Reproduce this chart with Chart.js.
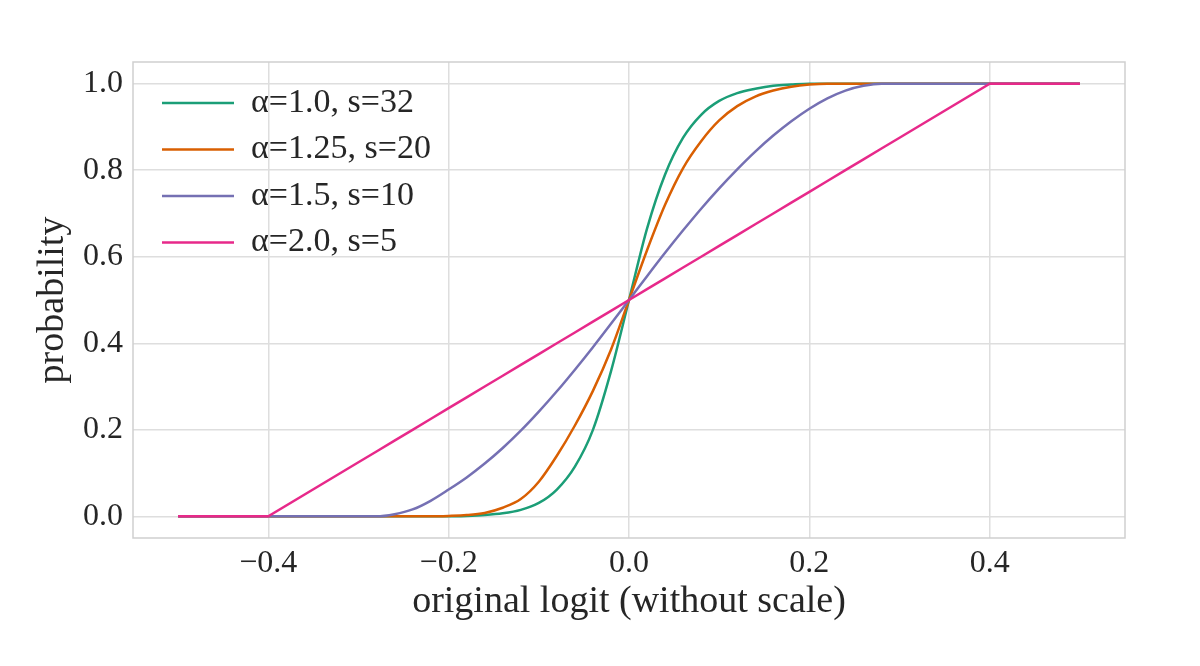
<!DOCTYPE html>
<html lang="en">
<head>
    <meta charset="UTF-8">
    <title>probability vs original logit</title>
    <script src="https://cdn.jsdelivr.net/npm/chart.js"></script>
    <style>
        html, body { margin: 0; padding: 0; background: #fff; }
        #wrap { width: 1200px; height: 666px; }
    </style>
</head>
<body>
    <div id="wrap">
        <canvas id="logitChart" width="1200" height="666"></canvas>
    </div>

    <script>
        // Valores
        const logitValues = [-0.5, -0.4, -0.3, -0.28, -0.26, -0.24, -0.22, -0.2, -0.18, -0.16, -0.14, -0.12, -0.1, -0.08, -0.06, -0.04, -0.02,
            0, 0.02, 0.04, 0.06, 0.08, 0.1, 0.12, 0.14, 0.16, 0.18, 0.2, 0.22, 0.24, 0.26, 0.28, 0.3, 0.4, 0.5];

        const probA10 = [0, 0, 0, 0, 0, 0, 0, 0, 0.001, 0.003, 0.007, 0.015, 0.031, 0.062, 0.115, 0.2, 0.335,
            0.5, 0.665, 0.79, 0.875, 0.928, 0.96, 0.978, 0.988, 0.995, 0.998, 1, 1, 1, 1, 1, 1, 1, 1];

        const probA125 = [0, 0, 0, 0, 0, 0, 0, 0.001, 0.003, 0.008, 0.02, 0.04, 0.08, 0.14, 0.21, 0.29, 0.385,
            0.5, 0.615, 0.72, 0.805, 0.867, 0.915, 0.948, 0.97, 0.984, 0.993, 0.998, 1, 1, 1, 1, 1, 1, 1];

        const probA15 = [0, 0, 0, 0, 0.005, 0.016, 0.036, 0.062, 0.09, 0.122, 0.158, 0.198, 0.242, 0.289, 0.339, 0.391, 0.445,
            0.5, 0.555, 0.609, 0.661, 0.711, 0.758, 0.802, 0.843, 0.88, 0.913, 0.942, 0.966, 0.984, 0.995, 1, 1, 1, 1];

        const probA20 = [0, 0, 0.125, 0.15, 0.175, 0.2, 0.225, 0.25, 0.275, 0.3, 0.325, 0.35, 0.375, 0.4, 0.425, 0.45, 0.475,
            0.5, 0.525, 0.55, 0.575, 0.6, 0.625, 0.65, 0.675, 0.7, 0.725, 0.75, 0.775, 0.8, 0.825, 0.85, 0.875, 1, 1];

        const seriesLabels = ['α=1.0, s=32', 'α=1.25, s=20', 'α=1.5, s=10', 'α=2.0, s=5'];
        const seriesColors = ['#1b9e77', '#d95f02', '#7570b3', '#e7298a'];

        const xTickValues = [-0.4, -0.2, 0, 0.2, 0.4];
        const xTickLabels = ['−0.4', '−0.2', '0.0', '0.2', '0.4'];
        const yTickValues = [0, 0.2, 0.4, 0.6, 0.8, 1.0];
        const yTickLabels = ['0.0', '0.2', '0.4', '0.6', '0.8', '1.0'];

        const serif = "'Liberation Serif', 'Times New Roman', serif";
        const textColor = '#262626';

        function toPoints(ys) {
            return logitValues.map((x, i) => ({ x: x, y: ys[i] }));
        }

        const allSeries = [probA10, probA125, probA15, probA20];
        const datasets = allSeries.map((ys, i) => ({
            label: seriesLabels[i],
            data: toPoints(ys),
            borderColor: seriesColors[i],
            backgroundColor: seriesColors[i],
            borderWidth: 2.5,
            pointRadius: 0,
            pointStyle: 'line',
            tension: 0,
            cubicInterpolationMode: i === 3 ? 'default' : 'monotone',
            // el ultimo queda encima, como en matplotlib
            order: allSeries.length - i
        }));

        // Marco gris alrededor del area del grafico
        const framePlugin = {
            id: 'frame',
            beforeDatasetsDraw(chart) {
                const { ctx, chartArea: a } = chart;
                ctx.save();
                ctx.strokeStyle = '#cfcfcf';
                ctx.lineWidth = 1.5;
                ctx.strokeRect(a.left, a.top, a.right - a.left, a.bottom - a.top);
                ctx.restore();
            }
        };

        // Leyenda dentro del area, arriba a la izquierda
        const legendOffset = {
            id: 'legendOffset',
            afterLayout(chart) {
                const lg = chart.legend;
                if (lg) {
                    lg.left = chart.chartArea.left + 16.5;
                    lg.top = chart.chartArea.top + 11.5;
                    lg.bottom = chart.chartArea.bottom;
                }
            }
        };

        new Chart(document.getElementById('logitChart'), {
            type: 'line',
            data: { datasets },
            plugins: [framePlugin, legendOffset],
            options: {
                responsive: false,
                animation: false,
                devicePixelRatio: 1,
                layout: { padding: { left: 0, top: 62, right: 75, bottom: 0 } },
                plugins: {
                    tooltip: { enabled: false },
                    legend: {
                        position: 'chartArea',
                        align: 'start',
                        labels: {
                            usePointStyle: true,
                            pointStyleWidth: 72,
                            padding: 12.5,
                            color: textColor,
                            font: { family: serif, size: 34 },
                            sort: (a, b) => a.datasetIndex - b.datasetIndex
                        }
                    }
                },
                scales: {
                    x: {
                        type: 'linear',
                        min: -0.55,
                        max: 0.55,
                        afterBuildTicks: (scale) => { scale.ticks = xTickValues.map(v => ({ value: v })); },
                        afterFit: (scale) => { scale.height = 128; },
                        ticks: {
                            padding: 6.5,
                            color: textColor,
                            font: { family: serif, size: 32 },
                            maxRotation: 0,
                            callback: (v, i) => xTickLabels[i]
                        },
                        grid: { color: '#dedede', lineWidth: 1.5, drawTicks: false },
                        border: { display: false },
                        title: {
                            display: true,
                            text: 'original logit (without scale)',
                            color: textColor,
                            font: { family: serif, size: 38 },
                            padding: { top: 0, bottom: 41 }
                        }
                    },
                    y: {
                        type: 'linear',
                        min: -0.05,
                        max: 1.05,
                        afterBuildTicks: (scale) => { scale.ticks = yTickValues.map(v => ({ value: v })); },
                        afterFit: (scale) => { scale.width = 133; },
                        ticks: {
                            padding: 10,
                            color: textColor,
                            font: { family: serif, size: 32 },
                            callback: (v, i) => yTickLabels[i]
                        },
                        grid: { color: '#dedede', lineWidth: 1.5, drawTicks: false },
                        border: { display: false },
                        title: {
                            display: true,
                            text: 'probability',
                            color: textColor,
                            font: { family: serif, size: 38 },
                            padding: { top: 30, bottom: 0 }
                        }
                    }
                }
            }
        });
    </script>
</body>
</html>
